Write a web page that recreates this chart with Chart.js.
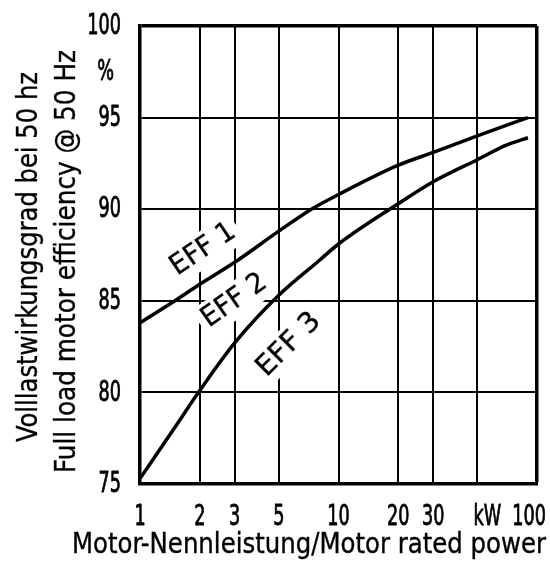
<!DOCTYPE html>
<html>
<head>
<meta charset="utf-8">
<script src="https://cdn.jsdelivr.net/npm/chart.js@4.4.1/dist/chart.umd.min.js"></script>
<style>
  html, body { margin: 0; padding: 0; background: #fff; }
  canvas { display: block; }
</style>
</head>
<body>
<canvas id="effchart" width="550" height="563"></canvas>
<script>
// rated power (kW) and efficiency (%)
const power1 = [1, 1.5, 2, 3, 5, 7.3, 10, 20, 30, 50, 90];
const eff1Limit = [83.8, 85.0, 85.9, 87.1, 88.8, 90.0, 90.8, 92.4, 93.1, 94.0, 95.0];
const power2 = [1, 1.5, 2, 3, 5, 8, 10, 20, 30, 50, 70, 90];
const eff2Limit = [75.3, 78.1, 80.1, 82.7, 85.3, 87.2, 88.1, 90.3, 91.5, 92.7, 93.5, 93.9];

const xTicks = [1, 2, 3, 5, 10, 20, 30, 50, 100];
const xTickLabels = ['1', '2', '3', '5', '10', '20', '30', 'kW', '100'];
const yTicks = [75, 80, 85, 90, 95, 97.5, 100];
const yTickLabels = ['75', '80', '85', '90', '95', '%', '100'];

const classNames = ['EFF 1', 'EFF 2', 'EFF 3'];
const yTitleLines = ['Volllastwirkungsgrad bei 50 hz', 'Full load motor efficiency @ 50 Hz'];
const xTitle = 'Motor-Nennleistung/Motor rated power';

// where the class names sit (kW, %) and how they lean
const classSpots = [
  { x: 2.08, y: 87.8, angle: 34, width: 72 },
  { x: 2.99, y: 85.0, angle: 35, width: 73 },
  { x: 5.63, y: 82.6, angle: 45, width: 78 }
];

const fontName = '"DejaVu Sans Condensed", "DejaVu Sans", sans-serif';
const squeeze = 0.7;   // narrow drawing-office digits

// fill plus a thin stroke, the lettering in the drawing is a bit heavier
function inkText(ctx, text, x, y, weight) {
  ctx.lineWidth = weight || 0.35;
  ctx.strokeStyle = '#000';
  ctx.lineJoin = 'round';
  ctx.fillText(text, x, y);
  ctx.strokeText(text, x, y);
}

function fitText(ctx, text, x, y, width) {
  const w = ctx.measureText(text).width;
  ctx.save();
  ctx.translate(x, y);
  ctx.scale(width / w, 1);
  inkText(ctx, text, 0, 0);
  ctx.restore();
}

function narrowText(ctx, text, x, y, align) {
  const w = ctx.measureText(text).width * squeeze;
  let left = x;
  if (align === 'center') left = x - w / 2;
  if (align === 'right') left = x - w;
  ctx.save();
  ctx.translate(left, y);
  ctx.scale(squeeze, 1);
  inkText(ctx, text, 0, 0, 0.8);
  ctx.restore();
}

// class names on white patches, over the grid but under the curves
const classLabelPlugin = {
  id: 'classLabels',
  beforeDatasetsDraw(chart) {
    const ctx = chart.ctx;
    const xs = chart.scales.x, ys = chart.scales.y;
    ctx.save();
    ctx.font = '28px ' + fontName;
    ctx.textAlign = 'center';
    ctx.textBaseline = 'middle';
    classNames.forEach((name, i) => {
      const s = classSpots[i];
      ctx.save();
      ctx.translate(xs.getPixelForValue(s.x), ys.getPixelForValue(s.y));
      ctx.rotate(-s.angle * Math.PI / 180);
      ctx.fillStyle = '#fff';
      ctx.fillRect(-s.width / 2 - 5, -17, s.width + 10, 34);
      ctx.fillStyle = '#000';
      const w = ctx.measureText(name).width;
      ctx.scale(s.width / w, 1);
      inkText(ctx, name, 0, 0);
      ctx.restore();
    });
    ctx.restore();
  }
};

// tick labels in narrow lettering, placed from the scales
const tickLabelPlugin = {
  id: 'tickLabels',
  afterDraw(chart) {
    const ctx = chart.ctx;
    const xs = chart.scales.x, ys = chart.scales.y;
    ctx.save();
    ctx.fillStyle = '#000';
    ctx.font = '28px ' + fontName;
    ctx.textBaseline = 'alphabetic';
    xTicks.forEach((v, i) => {
      const text = xTickLabels[i];
      let px = xs.getPixelForValue(v);
      if (text === 'kW') px += 10;
      const w = ctx.measureText(text).width * squeeze;
      px = Math.min(px, chart.width - 4 - w / 2);
      narrowText(ctx, text, px, 525, 'center');
    });
    ctx.textBaseline = 'middle';
    yTicks.forEach((v, i) => {
      const text = yTickLabels[i];
      const right = text === '%' ? 114 : 121;
      narrowText(ctx, text, right, ys.getPixelForValue(v) + 1, 'right');
    });
    ctx.restore();
  }
};

// axis titles
const axisTitlePlugin = {
  id: 'axisTitles',
  afterDraw(chart) {
    const ctx = chart.ctx;
    ctx.save();
    ctx.fillStyle = '#000';
    ctx.textAlign = 'left';
    ctx.textBaseline = 'alphabetic';
    ctx.font = '28px ' + fontName;
    fitText(ctx, xTitle, 72, 553, 474);
    // rotated y titles, read bottom to top
    ctx.font = '29px ' + fontName;
    ctx.save();
    ctx.translate(37, 442);
    ctx.rotate(-Math.PI / 2);
    fitText(ctx, yTitleLines[0], 0, 0, 370);
    ctx.restore();
    ctx.save();
    ctx.translate(75, 473);
    ctx.rotate(-Math.PI / 2);
    fitText(ctx, yTitleLines[1], 0, 0, 423);
    ctx.restore();
    ctx.restore();
  }
};

const ctx = document.getElementById('effchart');
const chart = new Chart(ctx, {
  type: 'line',
  data: {
    datasets: [
      {
        label: 'EFF 1 / EFF 2',
        data: power1.map((p, i) => ({ x: p, y: eff1Limit[i] })),
        borderColor: '#000',
        borderWidth: 3.5,
        pointRadius: 0,
        fill: false,
        cubicInterpolationMode: 'monotone'
      },
      {
        label: 'EFF 2 / EFF 3',
        data: power2.map((p, i) => ({ x: p, y: eff2Limit[i] })),
        borderColor: '#000',
        borderWidth: 3.5,
        pointRadius: 0,
        fill: false,
        cubicInterpolationMode: 'monotone'
      }
    ]
  },
  options: {
    responsive: false,
    animation: false,
    devicePixelRatio: 1,
    layout: { padding: { top: 26, right: 13, left: 0, bottom: 0 } },
    plugins: {
      legend: { display: false },
      tooltip: { enabled: false },
      title: { display: false }
    },
    scales: {
      x: {
        type: 'logarithmic',
        min: 1,
        max: 100,
        afterBuildTicks: (scale) => { scale.ticks = xTicks.map(v => ({ value: v })); },
        afterFit: (scale) => { scale.height = 79; scale.paddingLeft = 0; scale.paddingRight = 0; },
        ticks: { display: false, autoSkip: false },
        grid: {
          color: '#000',
          lineWidth: (c) => (c.tick && c.tick.value === 100 ? 3.5 : 2),
          drawTicks: false
        },
        border: { display: true, color: '#000', width: 3.5 }
      },
      y: {
        type: 'linear',
        min: 75,
        max: 100,
        afterBuildTicks: (scale) => { scale.ticks = yTicks.map(v => ({ value: v })); },
        afterFit: (scale) => { scale.width = 140; scale.paddingTop = 0; scale.paddingBottom = 0; },
        ticks: { display: false, autoSkip: false },
        grid: {
          color: (c) => (c.tick && c.tick.value === 97.5 ? 'rgba(0,0,0,0)' : '#000'),
          lineWidth: (c) => (c.tick && c.tick.value === 100 ? 3.5 : 2),
          drawTicks: false
        },
        border: { display: true, color: '#000', width: 3.5 }
      }
    }
  },
  plugins: [classLabelPlugin, tickLabelPlugin, axisTitlePlugin]
});
</script>
</body>
</html>
